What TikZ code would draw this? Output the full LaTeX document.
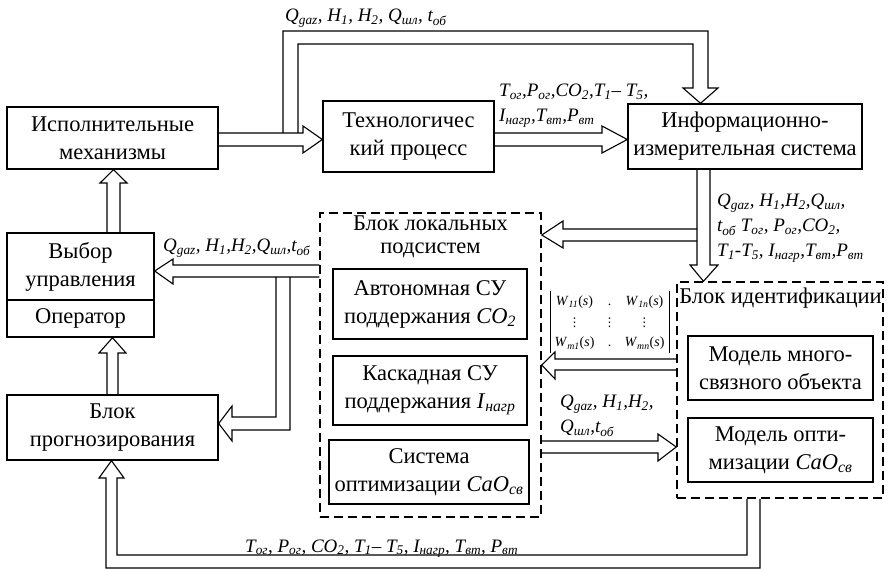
\documentclass[tikz,border=0pt]{standalone}
\usepackage{fontspec}
\setmainfont{Liberation Serif}
\newfontfamily\dejavu{DejaVu Sans}
\usetikzlibrary{calc}
\newcommand{\iv}[2]{\textit{#1}\textsubscript{\textit{#2}}}
\newcommand{\mainfnt}{\fontsize{22.5}{28}\selectfont}
\newcommand{\lblfnt}{\fontsize{19}{25}\selectfont\itshape}
\newcommand{\Wel}[1]{\textit{W}\textsubscript{\textit{#1}}(\textit{s})}
\newcommand{\vd}{{\dejavu\fontsize{12}{12}\selectfont ⋮}}
\tikzset{
  box/.style={draw, line width=1.4pt, inner sep=0pt, align=center, font=\mainfnt},
  dbox/.style={draw, line width=1.5pt, dash pattern=on 9pt off 5pt, inner sep=0pt},
  ar/.style={line width=1.1pt, line join=miter},
  lbl/.style={inner sep=0pt, font=\lblfnt, align=left},
}
\begin{document}
\begin{tikzpicture}[x=1pt,y=-1pt]
\useasboundingbox (0,0) rectangle (889,569);
% boxes
\node[box, minimum width=211pt, minimum height=62pt] (ism) at (112.5,138) {Исполнительные\\механизмы};
\node[box, minimum width=171pt, minimum height=71pt] (tech) at (408.5,136.5) {Технологичес\\кий процесс};
\node[box, minimum width=234pt, minimum height=65pt] (info) at (745,136.5) {Информационно-\\измерительная система};
\node[box, minimum width=147pt, minimum height=67pt] (vybor) at (80.5,266.5) {Выбор\\управления};
\node[box, minimum width=147pt, minimum height=37pt] (oper) at (80.5,318.5) {Оператор};
\node[box, minimum width=211pt, minimum height=65pt] (prog) at (112.5,427.5) {Блок\\прогнозирования};
\node[dbox, minimum width=221pt, minimum height=304pt] (local) at (430.5,365) {};
\node[font=\fontsize{22.5}{23}\selectfont, align=center, inner sep=0pt] (localt) at (430.5,237) {Блок локальных\\подсистем};
\node[box, minimum width=194pt, minimum height=70pt] (avt) at (430,304) {Автономная СУ\\поддержания \iv{CO}{2}};
\node[box, minimum width=194pt, minimum height=69pt] (kask) at (430,390.5) {Каскадная СУ\\поддержания \iv{I}{нагр}};
\node[box, minimum width=200pt, minimum height=64pt] (sist) at (429,472) {Система\\оптимизации \iv{CaO}{св}};
\node[dbox, minimum width=206pt, minimum height=216pt] (ident) at (780,390) {};
\node[font=\mainfnt, inner sep=0pt] (identt) at (780.5,298) {Блок идентификации};
\node[box, minimum width=185pt, minimum height=64pt] (mmo) at (780.5,368) {Модель много-\\связного объекта};
\node[box, minimum width=185pt, minimum height=64pt] (mopt) at (780.5,450) {Модель опти-\\мизации \iv{CaO}{св}};
% matrix
\node[inner sep=0pt, font=\fontsize{14}{16}\selectfont] (matr) at (609.5,322) {\renewcommand{\arraystretch}{1.3}\setlength{\tabcolsep}{4.5pt}\begin{tabular}{|ccc|}\Wel{11} & . & \Wel{1n}\\ \vd & \vd & \vd\\ \Wel{m1} & . & \Wel{mn}\end{tabular}};
% arrow ism -> tech
\draw[ar] (ism.east |- 0,133) -- (303,133) -- (303,126) -- (tech.west |- 0,139.5) -- (303,153) -- (303,146) -- (ism.east |- 0,146);
% top feedback
\draw[ar] (283,133) -- (283,31) -- (708,31) -- (708,88) -- (718,88) -- (700.5,0 |- info.north) -- (683,88) -- (693,88) -- (693,44) -- (298,44) -- (298,133);
% tech -> info
\draw[ar] (tech.east |- 0,133) -- (602,133) -- (602,126) -- (info.west |- 0,139.5) -- (602,153) -- (602,146) -- (tech.east |- 0,146);
% info down to ident
\draw[ar] (697,0 |- info.south) -- (697,265) -- (690,265) -- (703.5,0 |- ident.north) -- (718,265) -- (710,265) -- (710,0 |- info.south);
% branch to local
\draw[ar] (697,229) -- (563,229) -- (563,221) -- (local.east |- 0,235) -- (563,248) -- (563,241) -- (697,241);
% local -> vybor
\draw[ar] (local.west |- 0,265) -- (173,265) -- (173,259) -- (vybor.east |- 0,271) -- (173,284) -- (173,277) -- (local.west |- 0,277);
% branch to prog
\draw[ar] (276,277) -- (276,417) -- (232,417) -- (232,406) -- (prog.east |- 0,423.5) -- (232,441) -- (232,430) -- (290,430) -- (290,277);
% vybor -> ism
\draw[ar] (107,0 |- vybor.north) -- (107,183) -- (100,183) -- (113.5,0 |- ism.south) -- (127,183) -- (120,183) -- (120,0 |- vybor.north);
% prog -> oper
\draw[ar] (107,0 |- prog.north) -- (107,353) -- (99,353) -- (112.5,0 |- oper.south) -- (126,353) -- (118,353) -- (118,0 |- prog.north);
% ident -> kask (to local)
\draw[ar] (ident.west |- 0,359) -- (555,359) -- (555,352) -- (local.east |- 0,365) -- (555,379) -- (555,370) -- (ident.west |- 0,370);
% local -> ident
\draw[ar] (local.east |- 0,441) -- (658,441) -- (658,434) -- (ident.west |- 0,447) -- (658,461) -- (658,453) -- (local.east |- 0,453);
% bottom feedback
\draw[ar] (747,0 |- ident.south) -- (747,555) -- (117,555) -- (117,478) -- (124,478) -- (111.5,0 |- prog.south) -- (99,478) -- (106,478) -- (106,568) -- (760,568) -- (760,0 |- ident.south);
% labels
\node[lbl, anchor=base west] (l1) at (285,22) {Q\textsubscript{gaz}, H\textsubscript{1}, H\textsubscript{2}, Q\textsubscript{шл}, t\textsubscript{об}};
\node[lbl, anchor=north west] (l2) at (499,84) {T\textsubscript{ог},P\textsubscript{ог},CO\textsubscript{2},T\textsubscript{1}– T\textsubscript{5},\\I\textsubscript{нагр},T\textsubscript{вт},P\textsubscript{вт}};
\node[lbl, anchor=north west] (l3) at (717,194) {Q\textsubscript{gaz}, H\textsubscript{1},H\textsubscript{2},Q\textsubscript{шл},\\t\textsubscript{об} T\textsubscript{ог}, P\textsubscript{ог},CO\textsubscript{2},\\T\textsubscript{1}-T\textsubscript{5}, I\textsubscript{нагр},T\textsubscript{вт},P\textsubscript{вт}};
\node[lbl, anchor=base west] (l4) at (163,252) {Q\textsubscript{gaz}, H\textsubscript{1},H\textsubscript{2},Q\textsubscript{шл},t\textsubscript{об}};
\node[lbl, anchor=north west] (l5) at (560,395) {Q\textsubscript{gaz}, H\textsubscript{1},H\textsubscript{2},\\Q\textsubscript{шл},t\textsubscript{об}};
\node[lbl, anchor=base west] (l6) at (245,552) {T\textsubscript{ог}, P\textsubscript{ог}, CO\textsubscript{2}, T\textsubscript{1}– T\textsubscript{5}, I\textsubscript{нагр}, T\textsubscript{вт}, P\textsubscript{вт}};
\end{tikzpicture}
\end{document}
